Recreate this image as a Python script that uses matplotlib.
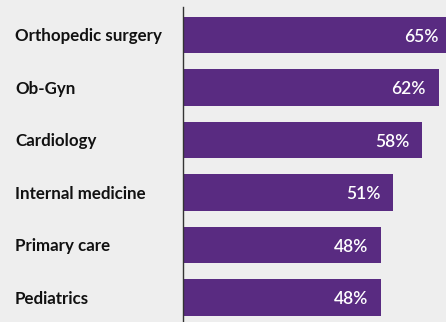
import matplotlib
matplotlib.use("Agg")
import matplotlib.pyplot as plt
import numpy as np

specialties = ["Orthopedic surgery", "Ob-Gyn", "Cardiology", "Internal medicine",
               "Primary care", "Pediatrics"]
shares = [65, 62, 58, 51, 48, 48]

PURPLE = "#592b81"
BG = "#eeeeee"

plt.rcParams["font.family"] = ["Lato", "DejaVu Sans"]

fig = plt.figure(figsize=(4.46, 3.22), dpi=100, facecolor=BG)
ax = fig.add_axes([183 / 446, 0, 1 - 183 / 446, 1 - 7 / 322], facecolor=BG)

y = np.arange(len(specialties))
ax.barh(y, shares, height=0.69, color=PURPLE, zorder=2)
for yi, v in zip(y, shares):
    ax.text(v - 3.1, yi + 0.03, f"{v}%", ha="right", va="center", color="white",
            fontsize=12.5, fontweight="semibold")

ax.set_xlim(0, 63.8)
ax.set_ylim(5.467, -0.533)
ax.set_xticks([])
ax.set_yticks(y)
ax.set_yticklabels(specialties, fontsize=12.2, fontweight="bold", color="#111111")
for lbl in ax.get_yticklabels():
    lbl.set_horizontalalignment("left")
ax.tick_params(axis="y", length=0, pad=121)
for s in ("top", "right", "bottom"):
    ax.spines[s].set_visible(False)
ax.spines["left"].set_color("#333333")
ax.spines["left"].set_linewidth(1.0)

fig.savefig("out.png", dpi=100, facecolor=BG)
